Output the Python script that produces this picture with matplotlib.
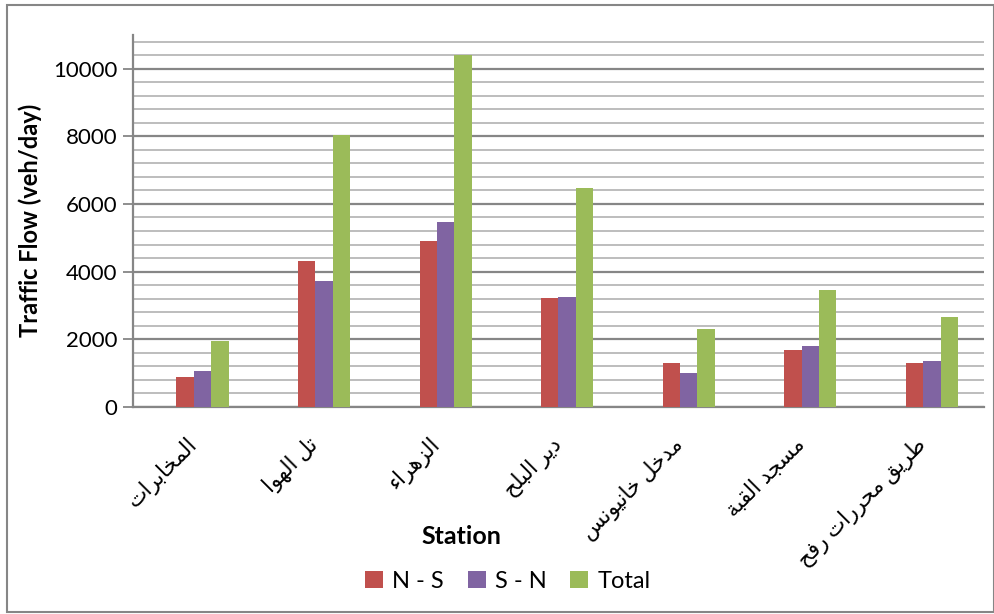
import numpy as np
import matplotlib
matplotlib.use("Agg")
import matplotlib.pyplot as plt
from matplotlib.patches import Rectangle

# data
stations = ["المخابرات", "تل الهوا", "الزهراء", "دير البلح",
            "مدخل خانيونس", "مسجد القبة", "طريق محررات رفح"]
n_s = [880, 4315, 4905, 3220, 1295, 1680, 1295]
s_n = [1055, 3720, 5470, 3250, 1000, 1800, 1350]
total = [1945, 8045, 10415, 6475, 2300, 3455, 2655]
series_names = ["N - S", "S - N", "Total"]

# arabic presentation forms: isolated, final, initial, medial
forms = {
    "ا": ("\uFE8D", "\uFE8E"), "ء": ("\uFE80",),
    "ب": ("\uFE8F", "\uFE90", "\uFE91", "\uFE92"), "ة": ("\uFE93", "\uFE94"),
    "ت": ("\uFE95", "\uFE96", "\uFE97", "\uFE98"), "ج": ("\uFE9D", "\uFE9E", "\uFE9F", "\uFEA0"),
    "ح": ("\uFEA1", "\uFEA2", "\uFEA3", "\uFEA4"), "خ": ("\uFEA5", "\uFEA6", "\uFEA7", "\uFEA8"),
    "د": ("\uFEA9", "\uFEAA"), "ر": ("\uFEAD", "\uFEAE"), "ز": ("\uFEAF", "\uFEB0"),
    "س": ("\uFEB1", "\uFEB2", "\uFEB3", "\uFEB4"), "ط": ("\uFEC1", "\uFEC2", "\uFEC3", "\uFEC4"),
    "ف": ("\uFED1", "\uFED2", "\uFED3", "\uFED4"), "ق": ("\uFED5", "\uFED6", "\uFED7", "\uFED8"),
    "ل": ("\uFEDD", "\uFEDE", "\uFEDF", "\uFEE0"), "م": ("\uFEE1", "\uFEE2", "\uFEE3", "\uFEE4"),
    "ن": ("\uFEE5", "\uFEE6", "\uFEE7", "\uFEE8"), "ه": ("\uFEE9", "\uFEEA", "\uFEEB", "\uFEEC"),
    "و": ("\uFEED", "\uFEEE"), "ي": ("\uFEF1", "\uFEF2", "\uFEF3", "\uFEF4"),
}

def shape(s):
    out = []
    for i, ch in enumerate(s):
        if ch not in forms:
            out.append(ch)
            continue
        f = forms[ch]
        prev = s[i - 1] if i > 0 else ""
        nxt = s[i + 1] if i + 1 < len(s) else ""
        jp = prev in forms and len(forms[prev]) == 4
        jn = len(f) == 4 and nxt in forms
        if len(f) == 1:
            out.append(f[0])
        elif jp and jn:
            out.append(f[3])
        elif jp:
            out.append(f[1])
        elif jn:
            out.append(f[2])
        else:
            out.append(f[0])
    return "".join(out)[::-1]

colors = ["#C0504D", "#8064A2", "#9BBB59"]
grid_c = "#868686"

plt.rcParams['font.family'] = ['Lato', 'DejaVu Sans']

fig = plt.figure(figsize=(9.95, 6.14), dpi=100)
ax = fig.add_axes([133/995, 1-406.7/614, (984-133)/995, (406.7-35)/614])

x = np.arange(len(stations))
w = 1/7
# four slots per group, the first one is empty in the original
offs = [-0.5*w, 0.5*w, 1.5*w]
for vals, off, c, name in zip([n_s, s_n, total], offs, colors, series_names):
    ax.bar(x + off, vals, w, color=c, label=name, zorder=3)

ax.set_xlim(-0.5, len(stations) - 0.5)
ax.set_ylim(0, 11000)
ax.set_yticks(np.arange(0, 10001, 2000))
ax.set_yticks(np.arange(400, 10801, 400), minor=True)
ax.grid(axis='y', which='minor', color='#b8b8b8', lw=1.3, zorder=0)
ax.grid(axis='y', which='major', color=grid_c, lw=1.6, zorder=1)
ax.tick_params(axis='y', which='major', length=7, width=1.3, color=grid_c, labelsize=16, pad=4)
ax.tick_params(axis='y', which='minor', length=0)

ax.set_xticks(x)
ax.set_xticklabels([shape(s) for s in stations], rotation=45, ha='right',
                   rotation_mode='anchor', va='center', fontsize=15.5)
ax.tick_params(axis='x', length=0, pad=25)

for sp in ['top', 'right']:
    ax.spines[sp].set_visible(False)
for sp in ['left', 'bottom']:
    ax.spines[sp].set_color(grid_c)
    ax.spines[sp].set_linewidth(1.6)

ax.set_ylabel("Traffic Flow (veh/day)", fontsize=17, fontweight='bold')
ax.yaxis.set_label_coords(-0.107, 0.5)
fig.text(461/995, 1-537/614, "Station", fontsize=18, fontweight='bold', ha='center', va='center')

fig.legend(loc='center', bbox_to_anchor=(508/995, 1-581/614), ncol=3, frameon=False,
           fontsize=17, handlelength=0.75, handleheight=0.75, handletextpad=0.4, columnspacing=1.0)

fig.patches.append(Rectangle((7/995, 2/614), 987/995, 607/614, transform=fig.transFigure,
                             fill=False, edgecolor=grid_c, lw=1.5))

fig.savefig("out.png", dpi=100)
